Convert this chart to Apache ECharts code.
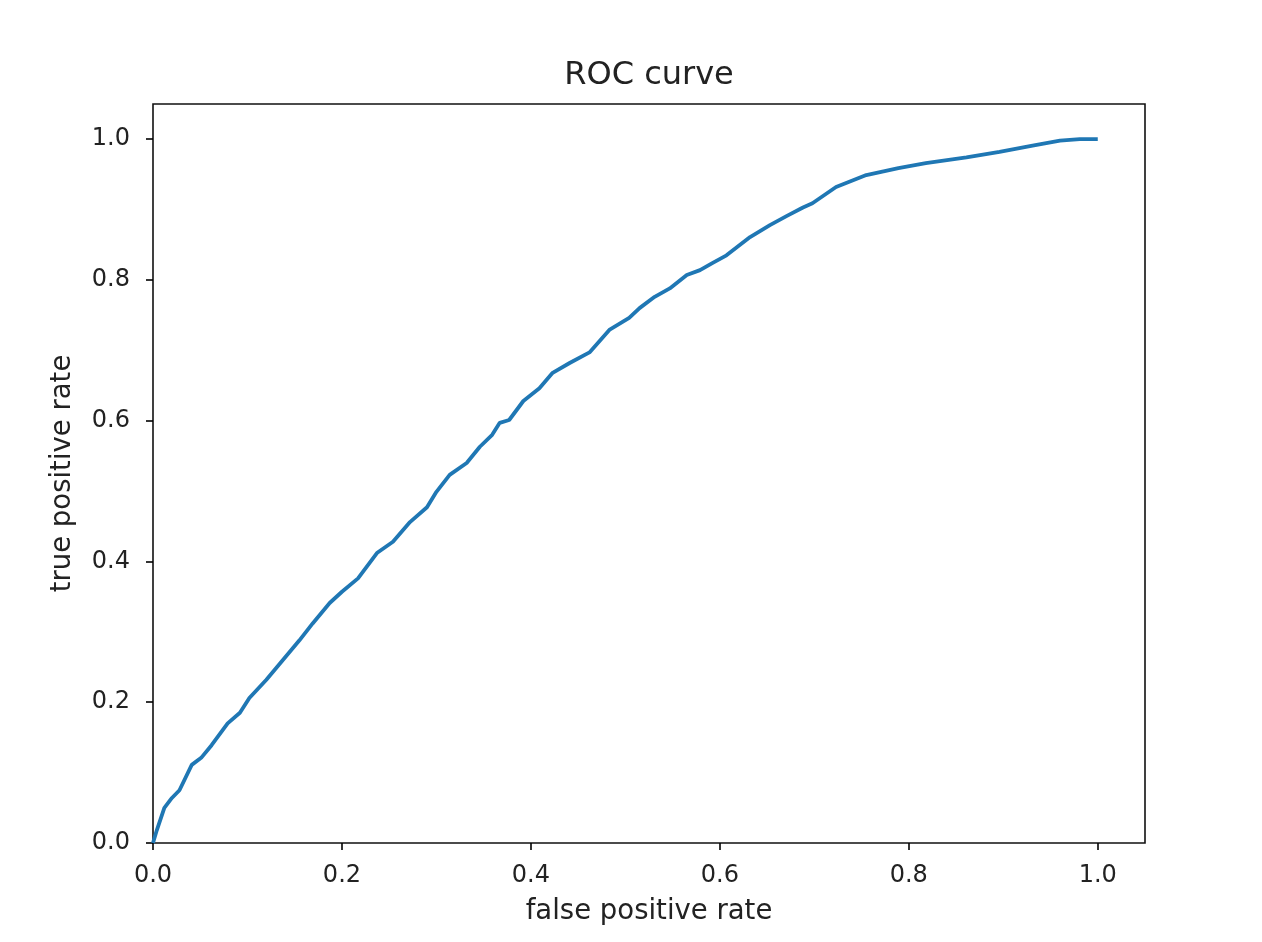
<!DOCTYPE html>
<html>
<head>
<meta charset="utf-8">
<script src="https://cdn.jsdelivr.net/npm/echarts@6/dist/echarts.min.js"></script>
<style>html,body{margin:0;padding:0;background:#fff}#c{width:1262px;height:942px}</style>
</head>
<body>
<div id="c"></div>
<script>
const fpr = [0, 0.004, 0.012, 0.020, 0.028, 0.041, 0.051, 0.062, 0.079, 0.092, 0.102, 0.120, 0.155, 0.169, 0.187, 0.200, 0.217, 0.237, 0.254, 0.272, 0.290, 0.300, 0.314, 0.332, 0.346, 0.359, 0.367, 0.377, 0.392, 0.409, 0.423, 0.441, 0.462, 0.483, 0.504, 0.515, 0.531, 0.547, 0.565, 0.579, 0.592, 0.607, 0.632, 0.653, 0.671, 0.688, 0.698, 0.723, 0.755, 0.789, 0.818, 0.861, 0.896, 0.931, 0.960, 0.981, 1.0];
const tpr = [0, 0.018, 0.050, 0.064, 0.075, 0.111, 0.121, 0.139, 0.170, 0.185, 0.206, 0.232, 0.288, 0.312, 0.341, 0.357, 0.376, 0.412, 0.428, 0.456, 0.477, 0.499, 0.523, 0.540, 0.563, 0.580, 0.597, 0.601, 0.628, 0.646, 0.668, 0.682, 0.697, 0.729, 0.746, 0.760, 0.776, 0.788, 0.807, 0.814, 0.824, 0.835, 0.861, 0.878, 0.891, 0.903, 0.909, 0.932, 0.949, 0.959, 0.966, 0.974, 0.982, 0.991, 0.998, 1.0, 1.0];
const tickValues = [0, 0.2, 0.4, 0.6, 0.8, 1.0];

const font = 'DejaVu Sans';
const chart = echarts.init(document.getElementById('c'));
const axisCommon = {
  type: 'value', min: 0, max: 1.05,
  axisLine: {show: false},
  splitLine: {show: false},
  axisTick: {show: true, length: 7, customValues: tickValues, lineStyle: {color: '#000', width: 1.6}},
  axisLabel: {customValues: tickValues, formatter: v => v.toFixed(1), color: '#222', fontFamily: font, fontSize: 24},
  nameLocation: 'middle',
  nameTextStyle: {color: '#222', fontFamily: font, fontSize: 27.5}
};
chart.setOption({
  animation: false,
  backgroundColor: '#fff',
  title: {text: 'ROC curve', left: 644, top: 55, textAlign: 'center',
    textStyle: {fontFamily: font, fontSize: 32, fontWeight: 'normal', color: '#222'}},
  grid: {left: 153, right: 117, top: 104, bottom: 99, show: true, borderColor: '#111', borderWidth: 1.6},
  xAxis: Object.assign({}, axisCommon, {name: 'false positive rate', nameGap: 55,
    axisLabel: Object.assign({}, axisCommon.axisLabel, {margin: 21})}),
  yAxis: Object.assign({}, axisCommon, {name: 'true positive rate', nameGap: 76,
    axisLabel: Object.assign({}, axisCommon.axisLabel, {margin: 23})}),
  series: [{
    type: 'line', showSymbol: false, smooth: false,
    data: fpr.map((x, i) => [x, tpr[i]]),
    lineStyle: {color: '#1f77b4', width: 3.8},
    itemStyle: {color: '#1f77b4'}
  }]
});
</script>
</body>
</html>
